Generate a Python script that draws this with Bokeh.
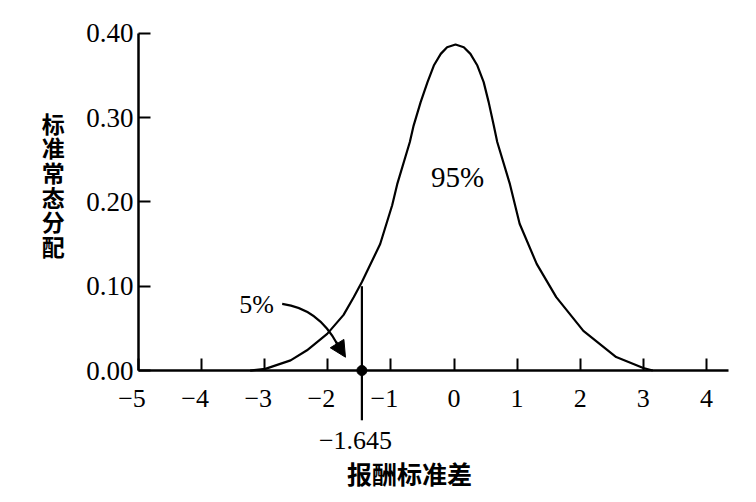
from bokeh.plotting import figure
from bokeh.models import Range1d, FixedTicker, Label, Arrow, NormalHead
from bokeh.embed import file_html
from bokeh.resources import INLINE

# ---- data ----
curve_x = [-3.23, -2.99, -2.59, -2.33, -2.01, -1.75, -1.59, -1.46, -1.17, -0.98, -0.90,
           -0.70, -0.64, -0.53, -0.42, -0.32, -0.21, -0.11, 0.024, 0.155, 0.26, 0.37,
           0.47, 0.55, 0.63, 0.685, 0.886, 1.04, 1.31, 1.62, 2.05, 2.57, 3.0, 3.15]
curve_y = [0.0, 0.002, 0.012, 0.024, 0.0435, 0.066, 0.087, 0.105, 0.150, 0.196, 0.221,
           0.271, 0.2905, 0.318, 0.342, 0.3617, 0.3755, 0.3834, 0.3866, 0.3834, 0.3755,
           0.3617, 0.342, 0.318, 0.2905, 0.271, 0.221, 0.174, 0.1265, 0.087, 0.047,
           0.016, 0.003, 0.0]

x_ticks = [-5, -4, -3, -2, -1, 0, 1, 2, 3, 4]
# the en space keeps the digit of a negative label over its tick, as in the picture
x_tick_labels = ["−5\u2002", "−4\u2002", "−3\u2002", "−2\u2002", "−1\u2002",
                 "0", "1", "2", "3", "4"]
y_ticks = [0.0, 0.1, 0.2, 0.3, 0.4]
y_tick_labels = ["0.00", "0.10", "0.20", "0.30", "0.40"]

cut_x = -1.46          # position of the marked cut-off line as drawn
cut_top = 0.10
cut_label = "−1.645"
tail_label = "5%"
body_label = "95%"
x_title = "报酬标准差"
y_title = "标准常态分配"

SERIF = "Liberation Serif"
CJK = "Noto Sans CJK SC"

p = figure(width=740, height=494, output_backend="svg", toolbar_location=None,
           x_range=Range1d(-7.187, 4.540), y_range=Range1d(-0.147, 0.4388),
           min_border_left=0, min_border_right=0, min_border_top=0,
           min_border_bottom=0)
p.outline_line_color = None
p.grid.visible = False
p.background_fill_color = "white"
p.border_fill_color = "white"

for ax in (p.xaxis[0], p.yaxis[0]):
    ax.axis_line_width = 2.5
    ax.axis_line_color = "black"
    ax.major_tick_line_width = 2
    ax.major_tick_line_color = "black"
    ax.major_tick_in = 12
    ax.major_tick_out = 0
    ax.minor_tick_line_color = None
    ax.major_label_text_font = SERIF
    ax.major_label_text_color = "black"

xa = p.xaxis[0]
xa.fixed_location = 0
xa.bounds = (-5, 4.35)
xa.ticker = FixedTicker(ticks=x_ticks)
xa.major_label_overrides = {t: l for t, l in zip(x_ticks, x_tick_labels)}
xa.major_label_text_font_size = "26px"
xa.major_label_standoff = 13

ya = p.yaxis[0]
ya.fixed_location = -5
ya.ticker = FixedTicker(ticks=y_ticks)
ya.major_label_overrides = {t: l for t, l in zip(y_ticks, y_tick_labels)}
ya.major_label_text_font_size = "27px"
ya.bounds = (0, 0.40)
ya.major_label_standoff = 5

# curve
p.line(curve_x, curve_y, line_width=2.2, line_color="black")

# cut-off line and dot
p.segment(x0=[cut_x], y0=[-0.059], x1=[cut_x], y1=[cut_top], line_width=2.2,
          line_color="black")
p.scatter([cut_x], [0], size=10, color="black")

# curved arrow from 5% label
p.quadratic(x0=[-2.723], y0=[0.0791], x1=[-1.846], y1=[0.0308],
            cx=[-2.147], cy=[0.0735], line_width=2.2, line_color="black")
p.add_layout(Arrow(end=NormalHead(size=16, fill_color="black", line_color="black"),
                   x_start=-1.87, y_start=0.034, x_end=-1.72, y_end=0.0158,
                   line_width=2.2, line_color="black"))

def lab(x, y, text, font, size, style="normal"):
    p.add_layout(Label(x=x, y=y, text=text, text_align="center",
                       text_baseline="middle", text_font=font,
                       text_font_size=size, text_color="black",
                       text_font_style=style))

lab(-3.13, 0.078, tail_label, SERIF, "26px")
lab(0.055, 0.229, body_label, SERIF, "29px")
lab(-1.561, -0.083, cut_label, SERIF, "26px")
lab(-0.705, -0.122, x_title, CJK, "25px", "bold")
for i, ch in enumerate(y_title):
    lab(-6.35, 0.294 - i * 0.0293, ch, CJK, "23px", "bold")

open("out.html", "w").write(file_html(p, INLINE))
